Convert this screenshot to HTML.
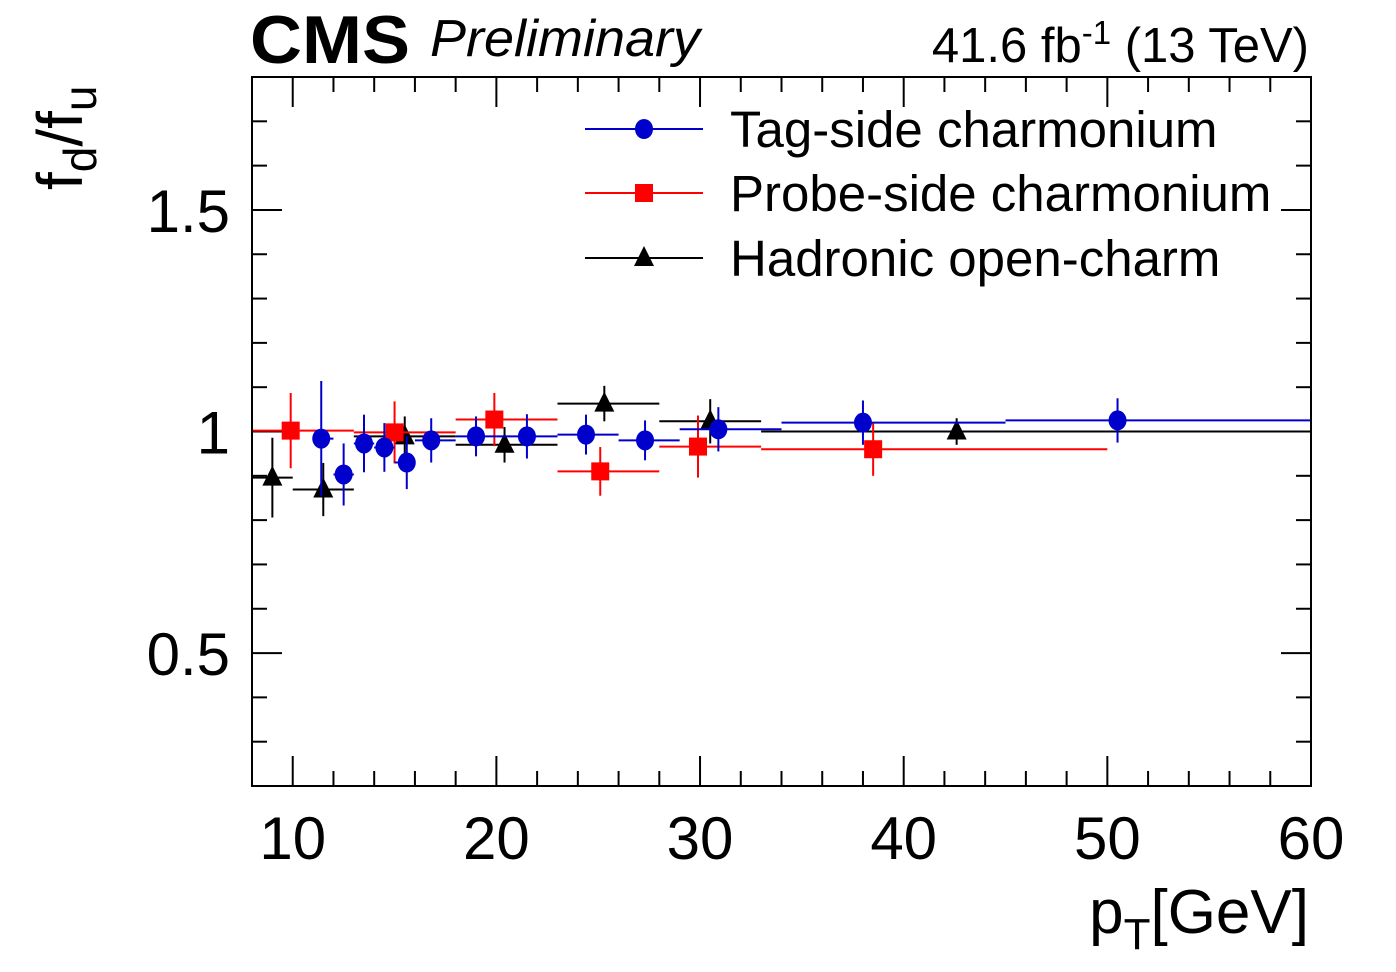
<!DOCTYPE html>
<html><head><meta charset="utf-8"><style>
html,body{margin:0;padding:0;background:#fff;}
svg{display:block;font-family:"Liberation Sans",Arial,sans-serif;}
</style></head><body>
<svg id="chart" width="1396" height="972" viewBox="0 0 1396 972" xmlns="http://www.w3.org/2000/svg">
<rect x="0" y="0" width="1396" height="972" fill="#fff"/>
<g id="ticks"></g>
<g id="marks"></g>
<rect x="252" y="77" width="1059" height="709" fill="none" stroke="#000" stroke-width="2"/>
<g id="labels"></g>
<text x="250" y="63" font-size="68" font-weight="bold" textLength="160" lengthAdjust="spacingAndGlyphs">CMS</text>
<text x="430" y="56" font-size="52" font-style="italic" textLength="270" lengthAdjust="spacingAndGlyphs">Preliminary</text>
<text x="1309" y="62" font-size="49" text-anchor="end">41.6 fb<tspan dy="-18" font-size="33">-1</tspan><tspan dy="18"> (13 TeV)</tspan></text>
<text transform="translate(82,190) rotate(-90)" font-size="64">f<tspan dy="14" font-size="46">d</tspan><tspan dy="-14">/f</tspan><tspan dy="14" font-size="46">u</tspan></text>
<text x="1309" y="933" font-size="62" text-anchor="end">p<tspan dy="16" font-size="44">T</tspan><tspan dy="-16">[GeV]</tspan></text>
<g id="legend"></g>
</svg>
<script>
const xMin = 8, xMax = 60, yMin = 0.2, yMax = 1.8;
const xTickLabels = [10, 20, 30, 40, 50, 60];
const yTickLabels = [0.5, 1, 1.5];
const seriesNames = ["Tag-side charmonium", "Probe-side charmonium", "Hadronic open-charm"];
const blueX = [11.4, 12.5, 13.5, 14.5, 15.6, 16.8, 19.0, 21.5, 24.4, 27.3, 30.9, 38.0, 50.5];
const blueLo = [11, 12, 13, 14, 15, 16, 18, 20, 23, 26, 29, 34, 45];
const blueHi = [12, 13, 14, 15, 16, 18, 20, 23, 26, 29, 34, 45, 60];
const blueY = [0.984, 0.903, 0.973, 0.964, 0.93, 0.98, 0.989, 0.989, 0.993, 0.98, 1.005, 1.02, 1.025];
const blueE = [0.13, 0.07, 0.065, 0.055, 0.06, 0.05, 0.045, 0.05, 0.045, 0.045, 0.05, 0.05, 0.05];
const redX = [9.9, 15.0, 19.9, 25.1, 29.9, 38.5];
const redLo = [8, 13, 18, 23, 28, 33];
const redHi = [13, 18, 23, 28, 33, 50];
const redY = [1.002, 0.998, 1.027, 0.91, 0.966, 0.96];
const redE = [0.085, 0.07, 0.06, 0.055, 0.07, 0.06];
const blackX = [9.0, 11.5, 15.5, 20.4, 25.3, 30.5, 42.6];
const blackLo = [8, 10, 13, 18, 23, 28, 33];
const blackHi = [10, 13, 18, 23, 28, 33, 60];
const blackY = [0.896, 0.869, 0.989, 0.97, 1.063, 1.023, 1.0];
const blackE = [0.09, 0.06, 0.045, 0.04, 0.04, 0.05, 0.03];

const L = 252, R = 1311, T = 77, B = 786;
const sx = v => L + (v - xMin) / (xMax - xMin) * (R - L);
const sy = v => B - (v - yMin) / (yMax - yMin) * (B - T);
const NS = "http://www.w3.org/2000/svg";
function mk(tag, attrs, parent) {
  const e = document.createElementNS(NS, tag);
  for (const k in attrs) e.setAttribute(k, attrs[k]);
  parent.appendChild(e);
  return e;
}
const ticks = document.getElementById('ticks');
for (let v = 8; v <= 60.001; v += 2) {
  const major = Math.abs(v % 10) < 1e-6;
  const len = major ? 30 : 15;
  const x = sx(v);
  const t1 = mk('line', {x1: x, x2: x, y1: B, y2: B - len, stroke: '#000', 'stroke-width': 2}, ticks);
  
  
  const t2 = mk('line', {x1: x, x2: x, y1: T, y2: T + len, stroke: '#000', 'stroke-width': 2}, ticks);
  
  
}
for (let i = 2; i <= 18; i++) {
  const v = i / 10;
  const major = (i % 5 === 0);
  const len = major ? 30 : 15;
  const y = sy(v);
  const t1 = mk('line', {x1: L, x2: L + len, y1: y, y2: y, stroke: '#000', 'stroke-width': 2}, ticks);
  
  
  const t2 = mk('line', {x1: R, x2: R - len, y1: y, y2: y, stroke: '#000', 'stroke-width': 2}, ticks);
  
  
}
const labels = document.getElementById('labels');
xTickLabels.forEach(v => {
  const t = mk('text', {x: sx(v), y: 859, 'font-size': 60, 'text-anchor': 'middle'}, labels);
  
  
  t.textContent = String(v);
});
yTickLabels.forEach(v => {
  const t = mk('text', {x: 230, y: sy(v) + 22, 'font-size': 60, 'text-anchor': 'end'}, labels);
  
  
  t.textContent = String(v);
});
const marks = document.getElementById('marks');
function marker(kind, cx, cy, color, parent) {
  let m;
  if (kind === 'circle') m = mk('ellipse', {cx: cx, cy: cy, rx: 9, ry: 10, fill: color}, parent);
  else if (kind === 'square') m = mk('rect', {x: cx - 9, y: cy - 9, width: 18, height: 18, fill: color}, parent);
  else m = mk('polygon', {points: `${cx},${cy - 12} ${cx - 10},${cy + 8} ${cx + 10},${cy + 8}`, fill: color}, parent);
  return m;
}
function drawSeries(name, xs, lo, hi, ys, es, color, kind) {
  const g = mk('g', {}, marks);
  
  
  xs.forEach((xv, i) => {
    const h = mk('line', {x1: sx(lo[i]), x2: sx(hi[i]), y1: sy(ys[i]), y2: sy(ys[i]), stroke: color, 'stroke-width': 2}, g);
    
    
    const v = mk('line', {x1: sx(xv), x2: sx(xv), y1: sy(ys[i] + es[i]), y2: sy(ys[i] - es[i]), stroke: color, 'stroke-width': 2}, g);
    
    
    const m = marker(kind, sx(xv), sy(ys[i]), color, g);
    
    
  });
}
drawSeries('hadronic', blackX, blackLo, blackHi, blackY, blackE, '#000', 'triangle');
drawSeries('probe-side', redX, redLo, redHi, redY, redE, '#ff0000', 'square');
drawSeries('tag-side', blueX, blueLo, blueHi, blueY, blueE, '#0000cc', 'circle');

const legend = document.getElementById('legend');
const legColors = ['#0000cc', '#ff0000', '#000'];
const legKinds = ['circle', 'square', 'triangle'];
const legY = [129, 193, 258];
seriesNames.forEach((n, i) => {
  const g = mk('g', {}, legend);
  
  
  mk('line', {x1: 585, x2: 703, y1: legY[i], y2: legY[i], stroke: legColors[i], 'stroke-width': 2}, g);
  marker(legKinds[i], 644, legY[i], legColors[i], g);
  const t = mk('text', {x: 730, y: legY[i] + 18, 'font-size': 51}, g);
  t.textContent = n;
});
</script>
</body></html>
